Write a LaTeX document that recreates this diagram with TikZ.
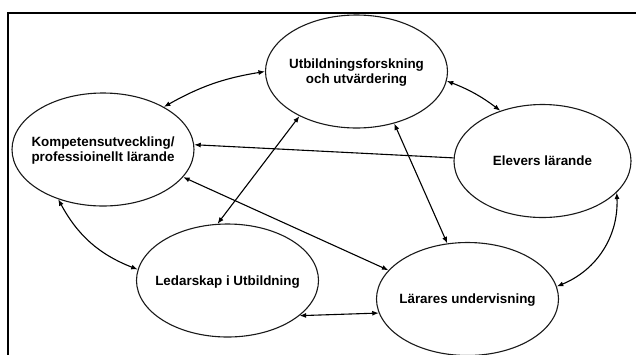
\documentclass[tikz,border=0pt]{standalone}
\usepackage{fontspec}
\setmainfont{Liberation Sans}
\usetikzlibrary{shapes.geometric,arrows.meta}
\newcommand{\bubbletext}[1]{\makebox[0pt][c]{\smash{\raisebox{-5pt}{\begin{tabular}{@{}c@{}}#1\end{tabular}}}}}
\begin{document}
\begin{tikzpicture}[x=1pt,y=-1pt,
  bubble/.style={draw=black!90,line width=1.1pt,ellipse,inner sep=0pt,
    minimum width=182pt,minimum height=113pt,
    font=\bfseries\fontsize{13.4}{15.5}\selectfont},
  link/.style={line width=1.1pt,{Latex[length=6.5pt,width=5pt]}-{Latex[length=6.5pt,width=5pt]}},
  onelink/.style={line width=1.1pt,-{Latex[length=6.5pt,width=5pt]}},
  frame/.style={line width=2pt}]
\useasboundingbox (0,0) rectangle (636,354);
\draw[frame] (8,356) -- (8,13) -- (638,13);
\node[bubble] (U) at (356.5,71.5) {\bubbletext{Utbildningsforskning\\och utvärdering}};
\node[bubble] (K) at (103,149.5) {\bubbletext{Kompetensutveckling/\\professioinellt lärande}};
\node[bubble,minimum width=177pt] (E) at (542.5,161) {\bubbletext{Elevers lärande}};
\node[bubble] (L) at (227.5,280.5) {\bubbletext{Ledarskap i Utbildning}};
\node[bubble] (R) at (467.5,299) {\bubbletext{Lärares undervisning}};
\draw[link] (K.35) to[bend left=10] (U.180);
\draw[link] (U.-6) to[bend left=8] (E.130);
\draw[onelink] (E.178) -- (K.3);
\draw[link] (L.100) -- (U.218);
\draw[link] (K.-19) -- (R.160.6);
\draw[link] (U.-54.6) -- (R.110.4);
\draw[link] (K.-132) to[bend right=20] (L.173.5);
\draw[link] (E.-23.5) to[bend left=35] (R.8);
\draw[link] (L.-26.7) -- (R.189.3);
\end{tikzpicture}
\end{document}
